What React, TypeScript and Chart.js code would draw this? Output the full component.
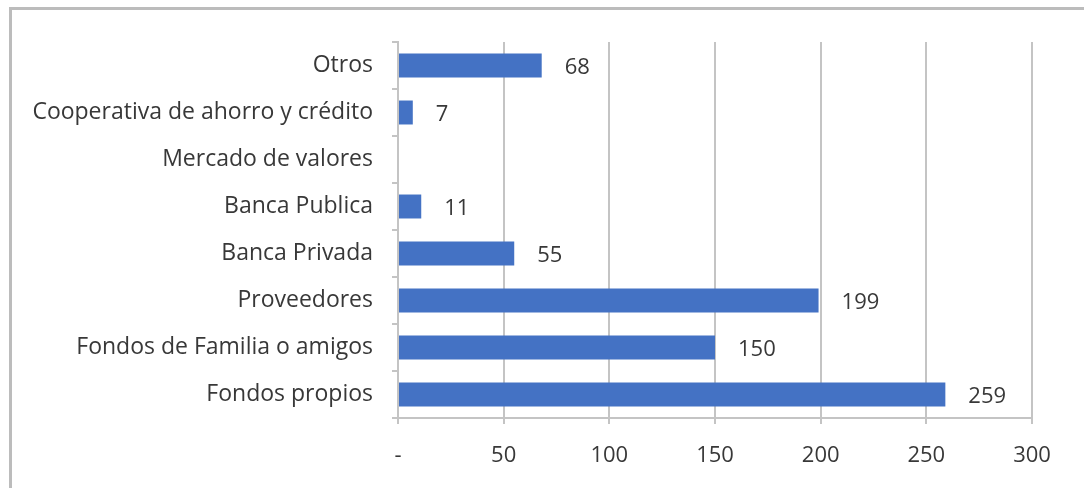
import React, { useEffect, useRef } from "react";
import { Chart, registerables } from "chart.js";

Chart.register(...registerables);

const categories = [
  "Otros",
  "Cooperativa de ahorro y crédito",
  "Mercado de valores",
  "Banca Publica",
  "Banca Privada",
  "Proveedores",
  "Fondos de Familia o amigos",
  "Fondos propios",
];
const values: (number | null)[] = [68, 7, null, 11, 55, 199, 150, 259];
const xTicks = [0, 50, 100, 150, 200, 250, 300];

const FONT = "'Open Sans', 'DejaVu Sans', sans-serif";
const TEXT = "#383838";

const labelPlugin = {
  id: "valueLabels",
  afterDatasetsDraw(chart: any) {
    const ctx = chart.ctx;
    const meta = chart.getDatasetMeta(0);
    ctx.save();
    ctx.font = `22px ${FONT}`;
    ctx.fillStyle = TEXT;
    ctx.textAlign = "left";
    ctx.textBaseline = "middle";
    meta.data.forEach((bar: any, i: number) => {
      const v = values[i];
      if (v === null || v === undefined) return;
      ctx.fillText(String(v), bar.x + 23, bar.y + 2);
    });
    ctx.restore();
  },
};

export default function App() {
  const ref = useRef<HTMLCanvasElement>(null);
  useEffect(() => {
    document.body.style.margin = "0";
    const chart = new Chart(ref.current!, {
      type: "bar",
      data: {
        labels: categories,
        datasets: [
          {
            data: values,
            backgroundColor: "#4472C4",
            barPercentage: 0.51,
            categoryPercentage: 1,
          },
        ],
      },
      options: {
        indexAxis: "y",
        animation: false,
        responsive: false,
        layout: { padding: { left: 0, top: 42, right: 52, bottom: 0 } },
        plugins: { legend: { display: false }, tooltip: { enabled: false } },
        scales: {
          x: {
            min: 0,
            max: 300,
            afterFit(scale: any) {
              scale.height = 70;
            },
            afterBuildTicks(scale: any) {
              scale.ticks = xTicks.map((v) => ({ value: v }));
            },
            grid: {
              color: "#c4c4c4",
              lineWidth: 2,
              tickLength: 6,
              drawTicks: true,
            },
            border: { color: "#c4c4c4", width: 2 },
            ticks: {
              font: { family: FONT, size: 22 },
              color: TEXT,
              padding: 19,
              callback: (v: any) => (Number(v) === 0 ? "-" : String(v)),
            },
          },
          y: {
            afterFit(scale: any) {
              scale.width = 398;
            },
            grid: {
              drawOnChartArea: false,
              color: "#c4c4c4",
              lineWidth: 2,
              tickLength: 6,
            },
            border: { color: "#c4c4c4", width: 2 },
            ticks: {
              font: { family: FONT, size: 23 },
              color: TEXT,
              padding: 19,
            },
          },
        },
      },
      plugins: [labelPlugin],
    });
    return () => chart.destroy();
  }, []);

  return (
    <div style={{ position: "relative", width: 1084, height: 488, overflow: "hidden", background: "#fff" }}>
      <div
        style={{
          position: "absolute",
          left: 9,
          top: 7,
          width: 1100,
          height: 500,
          border: "3px solid #bcbcbc",
          boxSizing: "border-box",
        }}
      />
      <canvas ref={ref} width={1084} height={488} style={{ position: "absolute", left: 0, top: 0 }} />
    </div>
  );
}
